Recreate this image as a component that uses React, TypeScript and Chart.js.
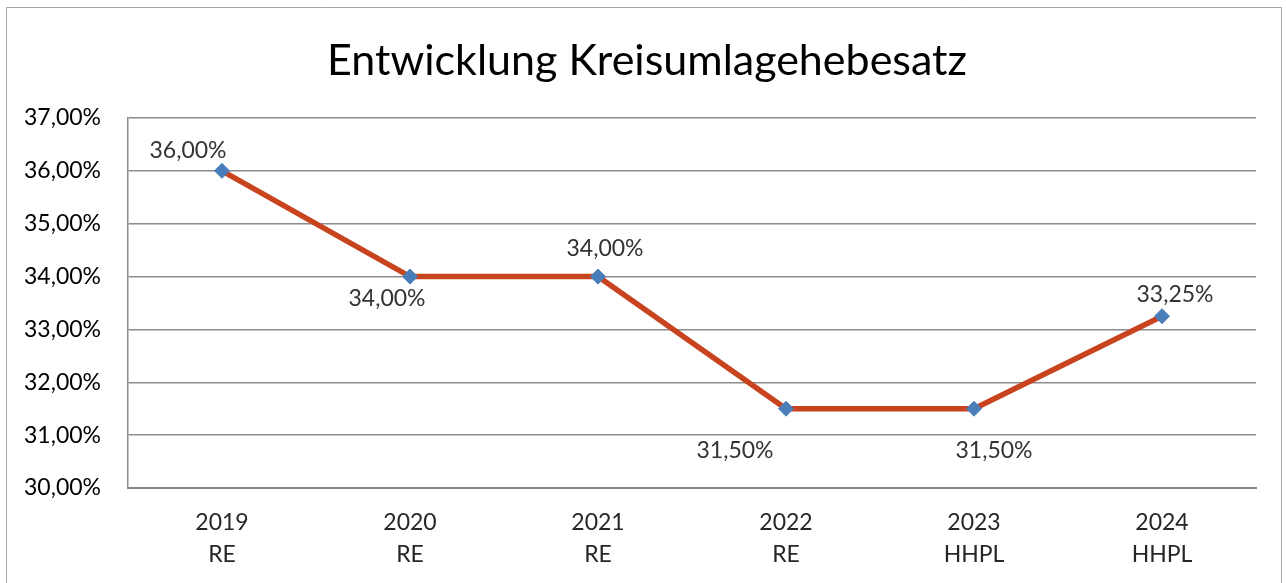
import React, { useEffect, useRef } from "react";
import { Chart, registerables } from "chart.js";

Chart.register(...registerables);

const titleText = "Entwicklung Kreisumlagehebesatz";
const years = ["2019", "2020", "2021", "2022", "2023", "2024"];
const kinds = ["RE", "RE", "RE", "RE", "HHPL", "HHPL"];
const rates = [36.0, 34.0, 34.0, 31.5, 31.5, 33.25];
const yMin = 30;
const yMax = 37;
const yStep = 1;
// label placement relative to each point (dx, dy), as in the original
const labelDx = [-34, -23, 7, -51, 20, 13];
const labelDy = [-20, 22, -28, 42, 42, -22];

const FONT = "Lato, 'Noto Sans', sans-serif";
const fmt = (v: number) => v.toFixed(2).replace(".", ",") + "%";

export default function App() {
  const ref = useRef<HTMLCanvasElement | null>(null);
  useEffect(() => {
    const canvas = ref.current;
    if (!canvas) return;
    const labelsPlugin = {
      id: "extras",
      afterDatasetsDraw(chart: any) {
        const ctx = chart.ctx;
        const meta = chart.getDatasetMeta(0);
        ctx.save();
        ctx.font = `23px ${FONT}`;
        ctx.fillStyle = "#333333";
        ctx.textAlign = "center";
        ctx.textBaseline = "middle";
        meta.data.forEach((pt: any, i: number) => {
          ctx.fillText(fmt(rates[i]), pt.x + labelDx[i], pt.y + labelDy[i]);
        });
        ctx.restore();
      },
      afterDraw(chart: any) {
        const ctx = chart.ctx;
        ctx.save();
        ctx.font = `43px ${FONT}`;
        ctx.fillStyle = "#000000";
        ctx.textAlign = "center";
        ctx.textBaseline = "middle";
        ctx.fillText(titleText, 647, 61);
        // outer frame
        ctx.strokeStyle = "#a6a6a6";
        ctx.lineWidth = 1;
        ctx.beginPath();
        ctx.moveTo(6.5, 583);
        ctx.lineTo(6.5, 7.5);
        ctx.lineTo(1281.5, 7.5);
        ctx.lineTo(1281.5, 583);
        ctx.stroke();
        ctx.restore();
      },
    };
    const chart = new Chart(canvas, {
      type: "line",
      data: {
        labels: years.map((y, i) => [y, kinds[i]]),
        datasets: [
          {
            data: rates,
            borderColor: "#C8441F",
            borderWidth: 5.5,
            pointStyle: "rectRot",
            pointRadius: 7.5,
            pointHoverRadius: 7.5,
            pointBackgroundColor: "#4A7EBB",
            pointBorderColor: "#4A7EBB",
            pointBorderWidth: 1,
            tension: 0,
          },
        ],
      },
      options: {
        responsive: false,
        animation: false,
        layout: { padding: { top: 118, right: 30, left: 0, bottom: 0 } },
        plugins: {
          legend: { display: false },
          title: { display: false },
          tooltip: { enabled: false },
        },
        scales: {
          x: {
            offset: true,
            grid: { display: false, drawTicks: false },
            border: { display: true, color: "#868686", width: 2 },
            ticks: {
              padding: 18,
              color: "#262626",
              font: { size: 23, family: FONT, lineHeight: 1.42 },
              maxRotation: 0,
            },
            afterFit(scale: any) {
              scale.height = 95;
            },
          },
          y: {
            min: yMin,
            max: yMax,
            grid: { color: "#8c8c8c", lineWidth: 1.5, drawTicks: false },
            border: { display: true, color: "#8c8c8c", width: 1.5 },
            ticks: {
              stepSize: yStep,
              padding: 27,
              color: "#000000",
              font: { size: 23, family: FONT },
              callback: (v: any) => fmt(Number(v)),
            },
            afterFit(scale: any) {
              scale.width = 128;
            },
          },
        },
      },
      plugins: [labelsPlugin],
    });
    return () => chart.destroy();
  }, []);
  return (
    <div style={{ position: "fixed", left: 0, top: 0, width: 1286, height: 583, background: "#fff" }}>
      <canvas ref={ref} width={1286} height={583} style={{ display: "block" }} />
    </div>
  );
}
